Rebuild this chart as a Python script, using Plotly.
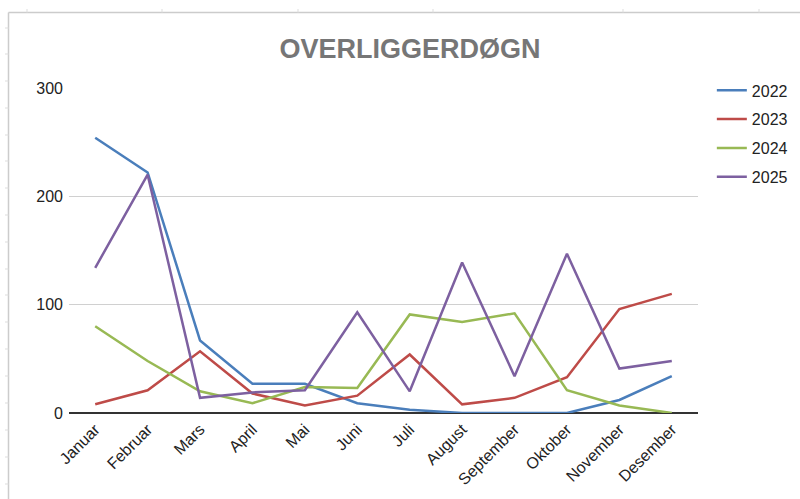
import plotly.graph_objects as go

months = ["Januar", "Februar", "Mars", "April", "Mai", "Juni", "Juli",
          "August", "September", "Oktober", "November", "Desember"]
v2022 = [254, 222, 67, 27, 27, 9, 3, 0, 0, 0, 12, 34]
v2023 = [8, 21, 57, 18, 7, 16, 54, 8, 14, 33, 96, 110]
v2024 = [80, 48, 20, 9, 24, 23, 91, 84, 92, 21, 7, 0]
v2025 = [134, 220, 14, 19, 21, 93, 20, 139, 34, 147, 41, 48]

series = [("2022", v2022, "#4A7EBB"), ("2023", v2023, "#BE4B48"),
          ("2024", v2024, "#98B954"), ("2025", v2025, "#7D60A0")]

fig = go.Figure()
for i, (name, vals, col) in enumerate(series):
    fig.add_trace(go.Scatter(x=months, y=vals, name=name, mode="lines",
                             line=dict(color=col, width=2.5),
                             legendgroup=name))

font = "Liberation Sans, Arial, sans-serif"

fig.update_layout(
    width=800, height=499,
    margin=dict(l=69, r=102, t=88, b=86, autoexpand=False),
    paper_bgcolor="white", plot_bgcolor="white",
    title=dict(text="<b>OVERLIGGERDØGN</b>", x=0.5125, xanchor="center",
               y=1 - 49 / 499, yanchor="middle",
               font=dict(family=font, size=27, color="#767676")),
    font=dict(family=font, size=16, color="#222222"),
    xaxis=dict(type="category", range=[-0.5, 11.5], tickangle=-45,
               showgrid=False, showline=False, ticks="", zeroline=False,
               automargin=False, ticklabelstandoff=3,
               tickfont=dict(size=16, color="#222222")),
    yaxis=dict(range=[0, 300], tickvals=[0, 100, 200, 300],
               showgrid=True, gridcolor="#d0d0d0", gridwidth=1,
               zeroline=True, zerolinecolor="#333333", zerolinewidth=1.5,
               showline=False, ticks="", ticklen=0, automargin=False,
               ticklabelstandoff=5,
               tickfont=dict(size=16, color="#222222")),
    legend=dict(x=1.022, y=1.045, xanchor="left", yanchor="top",
                font=dict(size=16, color="#222222"),
                tracegroupgap=5, traceorder="grouped",
                bgcolor="rgba(0,0,0,0)"),
)

# spreadsheet frame around the chart
fig.add_shape(type="line", xref="paper", yref="paper",
              x0=(8.5 - 69) / 629, x1=(800 - 69) / 629,
              y0=(413 - 12.5) / 325, y1=(413 - 12.5) / 325,
              line=dict(color="#cccccc", width=1.5))
fig.add_shape(type="line", xref="paper", yref="paper",
              x0=(8.5 - 69) / 629, x1=(8.5 - 69) / 629,
              y0=(413 - 12.5) / 325, y1=(413 - 499) / 325,
              line=dict(color="#cccccc", width=1.5))
for px in [27, 162, 298, 433, 623, 759]:
    fig.add_shape(type="line", xref="paper", yref="paper",
                  x0=(px - 69) / 629, x1=(px - 69) / 629,
                  y0=(413 - 9) / 325, y1=(413 - 12.5) / 325,
                  line=dict(color="#dddddd", width=1))
for py in [28, 54, 81, 108, 135, 161, 188, 215, 242, 269, 295, 322, 349, 376, 403, 430, 457, 484]:
    fig.add_shape(type="line", xref="paper", yref="paper",
                  x0=(5 - 69) / 629, x1=(8.5 - 69) / 629,
                  y0=(413 - py) / 325, y1=(413 - py) / 325,
                  line=dict(color="#dddddd", width=1))

fig.write_html("out.html", config={"displayModeBar": False},
               post_script="document.body.style.margin='0';document.body.style.overflow='hidden';")
